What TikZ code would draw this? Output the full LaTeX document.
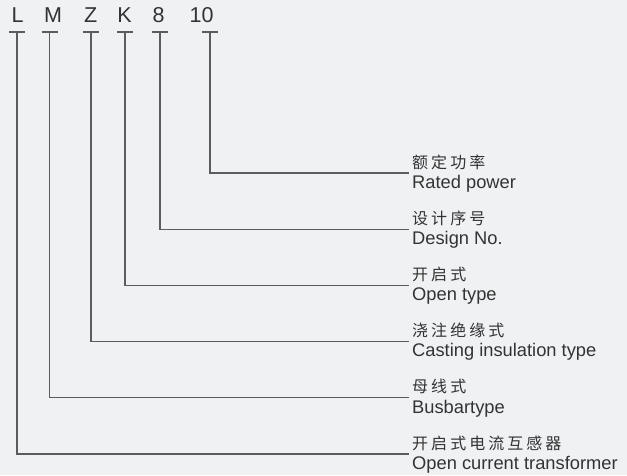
\documentclass[tikz,border=0pt]{standalone}
\usepackage{fontspec}
\setmainfont{Liberation Sans}
\newfontfamily\cjk[LetterSpace=19]{Noto Sans CJK SC}
\definecolor{bgc}{HTML}{F0F1F3}
\definecolor{txc}{HTML}{333333}
\definecolor{lnc}{HTML}{5C5C5C}
\begin{document}
\begin{tikzpicture}[x=1pt,y=-1pt,
  code/.style={inner sep=0pt,anchor=base,text=txc,font=\fontsize{21.5}{22}\selectfont},
  cn/.style={inner sep=0pt,anchor=base west,text=txc,font=\cjk\fontsize{16}{18}\selectfont},
  en/.style={inner sep=0pt,anchor=base west,text=txc,font=\fontsize{18.3}{20}\selectfont},
  lead/.style={draw=lnc,line width=1.3pt},
  teebar/.style={draw=lnc,line width=1.3pt}]
\fill[bgc] (0,0) rectangle (627,475);
\useasboundingbox (0,0) rectangle (627,475);
% code letters
\node[code] (cL) at (17.7,22.7) {L};
\node[code] (cM) at (53,22.7) {M};
\node[code] (cZ) at (90.8,22.7) {Z};
\node[code] (cK) at (124.5,22.7) {K};
\node[code] (c8) at (158.5,22.7) {8};
\node[code] (c10) at (201.7,22.7) {10};
% tee tops
\coordinate (tL) at (17,32);
\coordinate (tM) at (49.5,32);
\coordinate (tZ) at (91,32);
\coordinate (tK) at (125,32);
\coordinate (t8) at (160,32);
\coordinate (t10) at (210,32);
% line ends
\coordinate (e10) at (409,173);
\coordinate (e8) at (409,229.3);
\coordinate (eK) at (409,285.5);
\coordinate (eZ) at (409,341.5);
\coordinate (eM) at (409,397.8);
\coordinate (eL) at (409,454);
% labels
\node[cn] (n10) at (412,168) {额定功率};
\node[en] (m10) at (412,188.3) {Rated power};
\node[cn] (n8) at (412,224.3) {设计序号};
\node[en] (m8) at (412,244.6) {Design No.};
\node[cn] (nK) at (412,280.5) {开启式};
\node[en] (mK) at (412,300.8) {Open type};
\node[cn] (nZ) at (412,336.5) {浇注绝缘式};
\node[en] (mZ) at (412,356.8) {Casting insulation type};
\node[cn] (nM) at (412,392.8) {母线式};
\node[en] (mM) at (412,413.1) {Busbartype};
\node[cn] (nL) at (412,449) {开启式电流互感器};
\node[en] (mL) at (412,469.3) {Open current transformer};
% tees and leaders
\foreach \k in {L,M,Z,K,8,10}{
  \draw[teebar] ([xshift=-8pt]t\k) -- ([xshift=8pt]t\k);
  \draw[lead] (t\k) |- (e\k);
}
\end{tikzpicture}
\end{document}
